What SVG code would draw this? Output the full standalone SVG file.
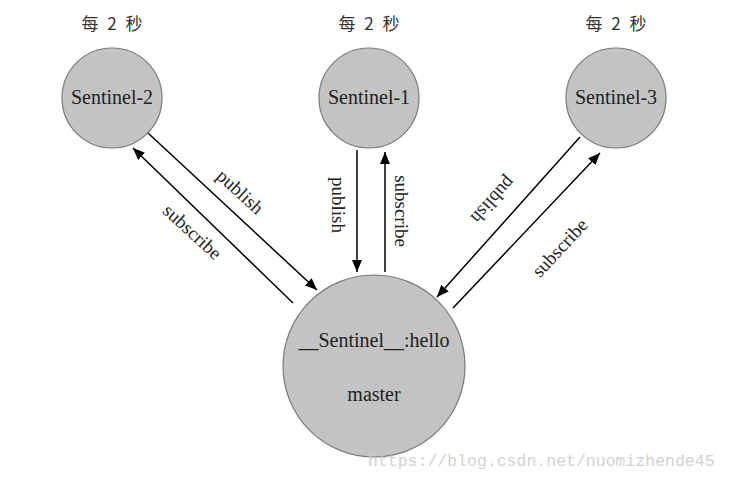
<svg xmlns="http://www.w3.org/2000/svg" width="729" height="481" viewBox="0 0 729 481">
<defs>
<marker id="arr" viewBox="0 0 12 10" refX="12" refY="5" markerWidth="12" markerHeight="10" markerUnits="userSpaceOnUse" orient="auto">
<path d="M0,0 L12,5 L0,10 Z" fill="#000"/>
</marker>
</defs>
<style>
.node{fill:#c3c3c3;stroke:#7a7a7a;stroke-width:1.2}
.t{font-family:"Liberation Serif","Noto Sans CJK SC",serif;font-size:20px;fill:#222;text-anchor:middle}
.cj{font-family:"Noto Sans CJK SC",serif;font-size:17px;fill:#333;text-anchor:middle;word-spacing:5px}
.lbl{font-family:"Liberation Serif",serif;font-size:19px;fill:#222;text-anchor:middle}
.ln{stroke:#000;stroke-width:1.5;fill:none;marker-end:url(#arr)}
.wm{font-family:"Liberation Mono",monospace;font-size:16.5px;fill:#d2d2d2}
</style>
<rect width="729" height="481" fill="#fff"/>
<g id="sentinel-2">
<text class="cj" x="112" y="30">每 2 秒</text>
<circle class="node" cx="112" cy="98" r="50"/>
<text class="t" x="112" y="104">Sentinel-2</text>
</g>
<g id="sentinel-1">
<text class="cj" x="369" y="30">每 2 秒</text>
<circle class="node" cx="369" cy="98" r="50"/>
<text class="t" x="369" y="104">Sentinel-1</text>
</g>
<g id="sentinel-3">
<text class="cj" x="616" y="30">每 2 秒</text>
<circle class="node" cx="616" cy="98" r="50"/>
<text class="t" x="616" y="104">Sentinel-3</text>
</g>
<g id="master">
<circle class="node" cx="374" cy="366" r="91"/>
<text class="t" x="374" y="347">__Sentinel__:hello</text>
<text class="t" x="374" y="401">master</text>
</g>
<g id="connectors">
<line class="ln" x1="148" y1="133" x2="317" y2="290"/>
<line class="ln" x1="293" y1="303" x2="133" y2="148"/>
<line class="ln" x1="357" y1="150" x2="357" y2="272"/>
<line class="ln" x1="385" y1="272" x2="385" y2="152"/>
<line class="ln" x1="580" y1="137" x2="437" y2="297"/>
<line class="ln" x1="453" y1="308" x2="600" y2="153"/>
<text class="lbl" transform="translate(240,192) rotate(42.5)" dy="6">publish</text>
<text class="lbl" transform="translate(192,232) rotate(42.5)" dy="6">subscribe</text>
<text class="lbl" transform="translate(338,205) rotate(90)" dy="6">publish</text>
<text class="lbl" transform="translate(401,211) rotate(90)" dy="6">subscribe</text>
<text class="lbl" transform="translate(493,200) rotate(132)" dy="6">publish</text>
<text class="lbl" transform="translate(560,248) rotate(-47)" dy="6">subscribe</text>
</g>
<text class="wm" x="368" y="466">https://blog.csdn.net/nuomizhende45</text>
</svg>
